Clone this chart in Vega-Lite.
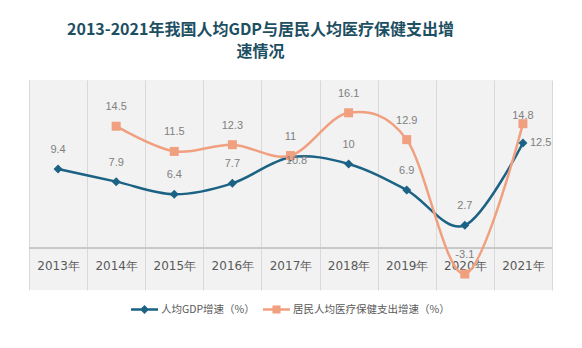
{
  "$schema": "https://vega.github.io/schema/vega-lite/v6.json",
  "autosize": "none",
  "width": 523,
  "height": 210,
  "padding": {"left": 29, "top": 80, "right": 30, "bottom": 58},
  "background": "#ffffff",
  "title": {
    "text": ["2013-2021年我国人均GDP与居民人均医疗保健支出增", "速情况"],
    "font": "Noto Sans CJK SC",
    "fontSize": 16,
    "fontWeight": "bold",
    "color": "#1d4f63",
    "anchor": "middle",
    "dx": -30,
    "lineHeight": 22,
    "offset": 20
  },
  "config": {
    "view": {"fill": "#f2f2f2", "stroke": null},
    "font": "Noto Sans CJK SC",
    "legend": {"layout": {"bottom": {"anchor": "middle"}}}
  },
  "data": {
    "values": [
      {"year": "2013年", "s": "人均GDP增速（%）", "v": 9.4},
      {"year": "2014年", "s": "人均GDP增速（%）", "v": 7.9},
      {"year": "2015年", "s": "人均GDP增速（%）", "v": 6.4},
      {"year": "2016年", "s": "人均GDP增速（%）", "v": 7.7},
      {"year": "2017年", "s": "人均GDP增速（%）", "v": 10.8},
      {"year": "2018年", "s": "人均GDP增速（%）", "v": 10},
      {"year": "2019年", "s": "人均GDP增速（%）", "v": 6.9},
      {"year": "2020年", "s": "人均GDP增速（%）", "v": 2.7},
      {"year": "2021年", "s": "人均GDP增速（%）", "v": 12.5},
      {"year": "2014年", "s": "居民人均医疗保健支出增速（%）", "v": 14.5},
      {"year": "2015年", "s": "居民人均医疗保健支出增速（%）", "v": 11.5},
      {"year": "2016年", "s": "居民人均医疗保健支出增速（%）", "v": 12.3},
      {"year": "2017年", "s": "居民人均医疗保健支出增速（%）", "v": 11},
      {"year": "2018年", "s": "居民人均医疗保健支出增速（%）", "v": 16.1},
      {"year": "2019年", "s": "居民人均医疗保健支出增速（%）", "v": 12.9},
      {"year": "2020年", "s": "居民人均医疗保健支出增速（%）", "v": -3.1},
      {"year": "2021年", "s": "居民人均医疗保健支出增速（%）", "v": 14.8}
    ]
  },
  "encoding": {
    "x": {
      "field": "year", "type": "nominal", "sort": null,
      "scale": {"paddingInner": 0, "paddingOuter": 0},
      "axis": {
        "title": null, "orient": "bottom", "domain": false, "ticks": false, "tickSize": 0,
        "grid": true, "tickBand": "extent", "gridColor": "#d9d9d9", "gridWidth": 1,
        "labelPadding": -25, "labelBaseline": "middle", "labelAngle": 0,
        "labelFont": "DejaVu Sans", "labelFontSize": 12, "labelColor": "#595959"
      }
    },
    "y": {
      "field": "v", "type": "quantitative",
      "scale": {"domain": [-5, 20], "nice": false, "zero": false},
      "axis": null
    }
  },
  "layer": [
    {
      "mark": {"type": "rule", "color": "#c8c8c8", "strokeWidth": 1},
      "encoding": {"y": {"datum": 0}, "x": {"value": 0}, "x2": {"value": 523}}
    },
    {
      "transform": [{"filter": "datum.s == '人均GDP增速（%）'"}],
      "mark": {"type": "line", "interpolate": "cardinal", "tension": 0, "strokeWidth": 2.5, "color": "#1b6284"}
    },
    {
      "transform": [{"filter": "datum.s != '人均GDP增速（%）'"}],
      "mark": {"type": "line", "interpolate": "cardinal", "tension": 0, "strokeWidth": 2.5, "color": "#f0a07f"}
    },
    {
      "transform": [{"filter": "datum.s == '人均GDP增速（%）'"}],
      "mark": {"type": "point", "shape": "diamond", "filled": true, "size": 81, "opacity": 1, "color": "#1b6284"}
    },
    {
      "transform": [{"filter": "datum.s != '人均GDP增速（%）'"}],
      "mark": {"type": "point", "shape": "square", "filled": true, "size": 81, "opacity": 1, "color": "#f0a07f"}
    },
    {
      "transform": [{"filter": "false"}],
      "mark": {"type": "point", "filled": true, "opacity": 1},
      "encoding": {
        "color": {"field": "s", "type": "nominal",
          "scale": {"domain": ["人均GDP增速（%）", "居民人均医疗保健支出增速（%）"], "range": ["#1b6284", "#f0a07f"]},
          "legend": {
            "title": null, "orient": "bottom", "direction": "horizontal", "offset": 6,
            "symbolSize": 729, "symbolOpacity": 1, "symbolStrokeWidth": 0, "labelLimit": 0,
            "labelFontSize": 10.5, "labelColor": "#595959", "labelOffset": 3, "columnPadding": 8
          }
        },
        "shape": {"field": "s", "type": "nominal",
          "scale": {"domain": ["人均GDP增速（%）", "居民人均医疗保健支出增速（%）"],
            "range": ["M-1,-0.09H1V0.09H-1Z M0,-0.33L0.33,0L0,0.33L-0.33,0Z", "M-1,-0.09H1V0.09H-1Z M-0.3,-0.3H0.3V0.3H-0.3Z"]}}
      }
    },
    {
      "transform": [{"filter": "!(datum.s == '人均GDP增速（%）' && (datum.year == '2021年' || datum.year == '2017年')) && !(datum.s != '人均GDP增速（%）' && datum.year == '2021年')"}],
      "mark": {"type": "text", "dy": -19, "fontSize": 11, "font": "Liberation Sans", "color": "#808080"},
      "encoding": {"text": {"field": "v", "type": "nominal"}}
    },
    {
      "transform": [{"filter": "datum.s == '人均GDP增速（%）' && datum.year == '2021年'"}],
      "mark": {"type": "text", "dx": 7, "align": "left", "fontSize": 11, "font": "Liberation Sans", "color": "#808080"},
      "encoding": {"text": {"field": "v", "type": "nominal"}}
    },
    {
      "transform": [{"filter": "datum.s == '人均GDP增速（%）' && datum.year == '2017年'"}],
      "mark": {"type": "text", "dx": 6, "dy": 4, "fontSize": 11, "font": "Liberation Sans", "color": "#808080"},
      "encoding": {"text": {"field": "v", "type": "nominal"}}
    },
    {
      "transform": [{"filter": "datum.s != '人均GDP增速（%）' && datum.year == '2021年'"}],
      "mark": {"type": "text", "dy": -8, "fontSize": 11, "font": "Liberation Sans", "color": "#808080"},
      "encoding": {"text": {"field": "v", "type": "nominal"}}
    }
  ]
}
